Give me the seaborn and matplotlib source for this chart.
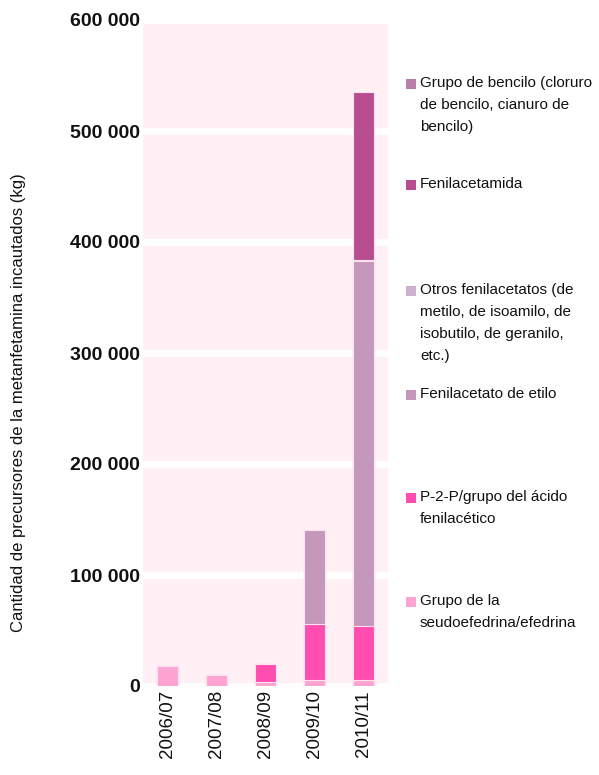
import matplotlib
matplotlib.use("Agg")
import matplotlib.pyplot as plt
import numpy as np
import seaborn as sns
from matplotlib.font_manager import fontManager
from matplotlib.patches import Rectangle

# Data (kg)
years = ["2006/07", "2007/08", "2008/09", "2009/10", "2010/11"]
pseudoefedrina = [18000, 10000, 4000, 5400, 5400]
p2p = [0, 0, 15800, 50700, 48600]
fenilacetato_etilo = [0, 0, 0, 84400, 328800]
otros_fenilacetatos = [0, 0, 0, 0, 1000]
fenilacetamida = [0, 0, 0, 0, 151300]
grupo_bencilo = [0, 0, 0, 0, 0]

labels = [
    "Grupo de la\nseudoefedrina/efedrina",
    "P-2-P/grupo del ácido\nfenilacético",
    "Fenilacetato de etilo",
    "Otros fenilacetatos (de\nmetilo, de isoamilo, de\nisobutilo, de geranilo,\netc.)",
    "Fenilacetamida",
    "Grupo de bencilo (cloruro\nde bencilo, cianuro de\nbencilo)",
]
colors = ["#FFA3D3", "#FF4DB0", "#C497BB", "#CDB0CB", "#B84D8F", "#B97DA8"]
layers = [pseudoefedrina, p2p, fenilacetato_etilo, otros_fenilacetatos,
          fenilacetamida, grupo_bencilo]

sns.set_theme(style="white")
names = {f.name for f in fontManager.ttflist}
plt.rcParams["font.family"] = ["Liberation Sans", "DejaVu Sans"]
narrow = "Liberation Sans Narrow" if "Liberation Sans Narrow" in names else "Liberation Sans"

fig = plt.figure(figsize=(5.99, 7.75), dpi=100)
ax = fig.add_axes([143 / 599, 89 / 775, 245 / 599, 666 / 775])
ax.set_facecolor("#FFF0F5")

# stacked bars: draw cumulative totals from the top layer down
cum = np.cumsum(np.array(layers), axis=0)
for i in range(len(layers) - 1, -1, -1):
    sns.barplot(x=years, y=cum[i], color=colors[i], width=0.41, saturation=1,
                edgecolor="#FBE3EF", linewidth=0.8, ax=ax, zorder=3)

ax.set_ylim(0, 600000)
ax.set_xlim(-0.5, 4.5)
ax.set_yticks(np.arange(0, 600001, 100000))
ax.set_yticklabels(["0" if v == 0 else f"{v // 1000} 000" for v in range(0, 600001, 100000)],
                   fontsize=14, fontweight="bold", color="#111111")
ax.set_xticks(range(len(years)))
ax.set_xticklabels(years, rotation=90, fontsize=13.5, color="#111111")
ax.tick_params(axis="y", length=0, pad=2)
ax.tick_params(axis="x", length=0, pad=3)
for s in ax.spines.values():
    s.set_visible(False)
for v in range(0, 600001, 100000):
    ax.axhline(v, color="white", linewidth=5, zorder=1)
ax.set_xlabel("")
ax.set_ylabel("Cantidad de precursores de la metanfetamina incautados (kg)",
              fontsize=12 if narrow == "Liberation Sans" else 13.5,
              family=narrow, color="#111111")
ax.yaxis.set_label_coords(-117 / 245, 0.426)

# legend, placed beside the stack
legend_y = [604, 500, 397, 293, 187, 86]
for lab, c, yp in zip(labels, colors, legend_y):
    fig.patches.append(Rectangle((406 / 599, 1 - (yp + 3) / 775), 10 / 599, 10 / 775,
                                 transform=fig.transFigure, facecolor=c, edgecolor="none"))
    fig.text(420 / 599, 1 - (yp - 10) / 775, lab, fontsize=11, va="top", ha="left",
             color="#111111", linespacing=1.72)

fig.savefig("out.png", dpi=100)
